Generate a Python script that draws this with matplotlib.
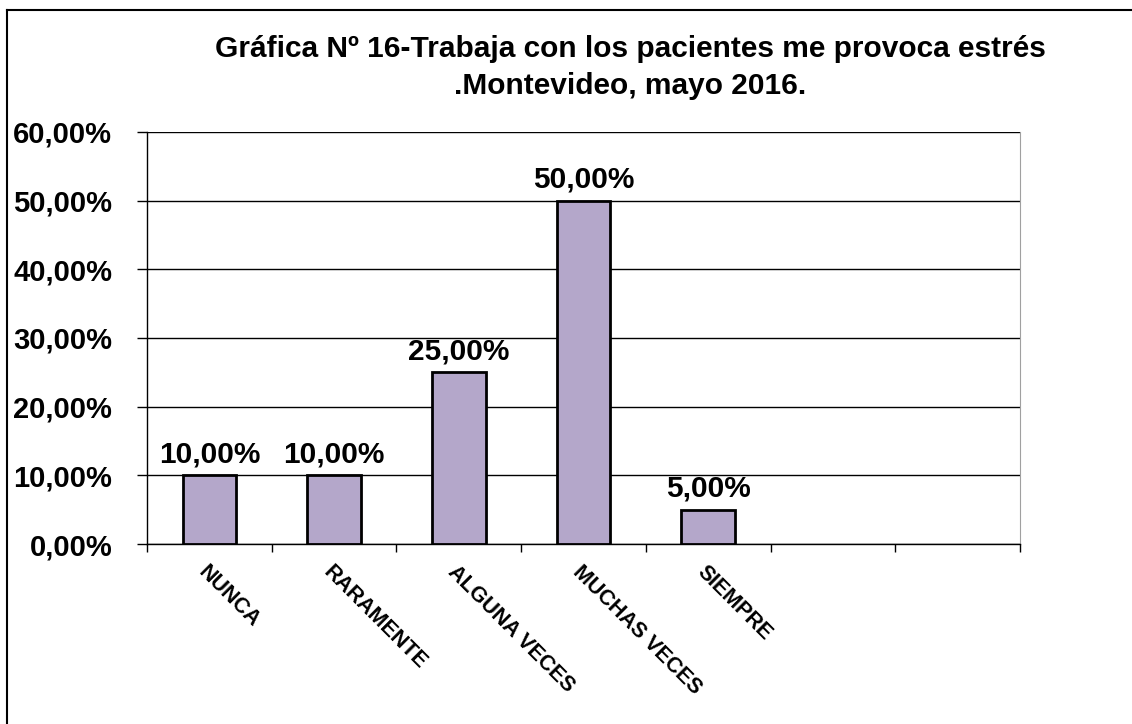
import matplotlib
matplotlib.use("Agg")
import matplotlib.pyplot as plt
from matplotlib.lines import Line2D
from matplotlib.ticker import FuncFormatter, MultipleLocator

# data
categories = ["NUNCA", "RARAMENTE", "ALGUNA VECES", "MUCHAS VECES", "SIEMPRE"]
percent = [10.0, 10.0, 25.0, 50.0, 5.0]
n_slots = 7  # the original chart leaves two empty slots on the right

title = "Gráfica Nº 16-Trabaja con los pacientes me provoca estrés\n.Montevideo, mayo 2016."


def pct(v):
    return f"{v:.2f}%".replace(".", ",")


plt.rcParams["font.family"] = ["Liberation Sans", "DejaVu Sans"]

fig = plt.figure(figsize=(11.32, 7.24), dpi=100)
ax = fig.add_axes([0.1299, 0.2486, 0.7711, 0.5691])

x = list(range(len(categories)))
ax.bar(x, percent, width=0.43, color="#b4a7ca", edgecolor="black", linewidth=2, zorder=3)

for xi, v in zip(x, percent):
    ax.annotate(pct(v), (xi, v), textcoords="offset points", xytext=(0, 5),
                ha="center", va="bottom", fontsize=21.5, fontweight="bold")

ax.set_xlim(-0.5, n_slots - 0.5)
ax.set_ylim(0, 60)
ax.yaxis.set_major_locator(MultipleLocator(10))
ax.yaxis.set_major_formatter(FuncFormatter(lambda v, _: pct(v)))
ax.grid(axis="y", color="black", linewidth=1, zorder=0)

ax.set_xticks(x)
ax.set_xticklabels(categories, rotation=-45, ha="left", rotation_mode="anchor",
                   fontsize=15.5, fontweight="bold")
ax.set_xticks([i - 0.5 for i in range(n_slots + 1)], minor=True)
ax.tick_params(axis="x", which="major", length=0, pad=13)
ax.tick_params(axis="x", which="minor", length=6, width=1, direction="out")
ax.tick_params(axis="y", length=7, width=1, direction="out", pad=18)
for lab in ax.get_yticklabels():
    lab.set_fontsize(21)
    lab.set_fontweight("bold")

ax.spines["top"].set_visible(False)
ax.spines["right"].set_color("#a0a0a0")
ax.spines["left"].set_linewidth(1)
ax.spines["bottom"].set_linewidth(1)

fig.text(0.557, 0.952, title, ha="center", va="top", fontsize=21.5, fontweight="bold",
         linespacing=1.4)

# outer chart frame (only top and left edges fall inside the picture)
fig.add_artist(Line2D([7 / 1132, 1.0], [1 - 10 / 724] * 2, color="black", linewidth=1.5,
                      transform=fig.transFigure))
fig.add_artist(Line2D([7 / 1132] * 2, [0.0, 1 - 10 / 724], color="black", linewidth=1.5,
                      transform=fig.transFigure))

fig.savefig("out.png", dpi=100)
